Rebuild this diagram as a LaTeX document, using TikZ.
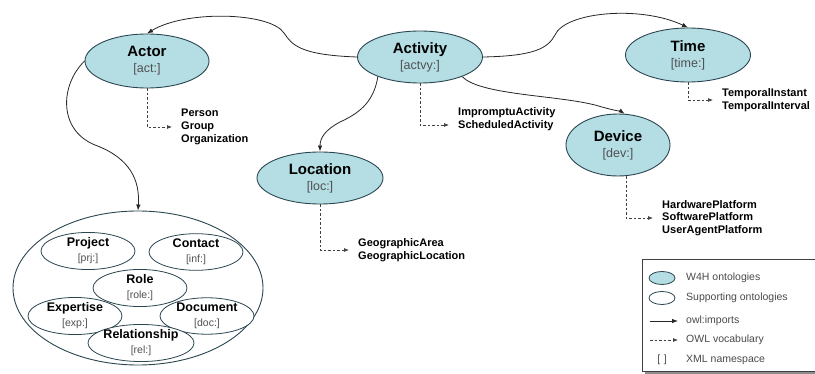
\documentclass[tikz,border=0pt]{standalone}
\usepackage{fontspec}
\setmainfont{Liberation Sans}
\usepackage{tikz}
\usetikzlibrary{shapes.geometric,arrows.meta}
\definecolor{w4hfill}{HTML}{B4DDE4}
\definecolor{w4hline}{HTML}{2B4650}
\definecolor{prefixgray}{HTML}{505050}
\definecolor{legendgray}{HTML}{4A4A4A}
\newcommand{\prefixsize}{\fontsize{12.5}{15}\selectfont}
\newcommand{\subprefixsize}{\fontsize{10.5}{13}\selectfont}

\begin{document}
\begin{tikzpicture}[x=1pt, y=-1pt,
  w4h/.style={ellipse, draw=w4hline, line width=0.9pt, fill=w4hfill, align=center, inner sep=0pt, font=\fontsize{15}{17}\selectfont},
  subont/.style={ellipse, draw=w4hline, line width=0.8pt, fill=white, align=center, inner sep=0pt, minimum width=94pt, minimum height=35pt, font=\fontsize{12.5}{15}\selectfont},
  imports/.style={-{Latex[length=6pt,width=4.5pt]}, line width=0.8pt, black!85},
  vocab/.style={-{Latex[length=5pt,width=4pt]}, dash pattern=on 2.5pt off 2pt, line width=0.7pt, black!75},
  terms/.style={align=left, anchor=west, inner xsep=9pt, inner ysep=0pt, font=\fontsize{11}{12.8}\selectfont\bfseries},
  keytext/.style={anchor=west, inner xsep=8pt, font=\fontsize{10.5}{12}\selectfont, text=legendgray}]
\useasboundingbox (0,0) rectangle (815,374);

% W4H ontologies
\node[w4h, minimum width=124pt, minimum height=54pt] (actor) at (147,61) {\textbf{Actor}\\[-1pt]\textcolor{prefixgray}{\prefixsize [act:]}};
\node[w4h, minimum width=125pt, minimum height=52pt] (activity) at (420,57) {\textbf{Activity}\\[-1pt]\textcolor{prefixgray}{\prefixsize [actvy:]}};
\node[w4h, minimum width=125pt, minimum height=54pt] (time) at (688,55) {\textbf{Time}\\[-1pt]\textcolor{prefixgray}{\prefixsize [time:]}};
\node[w4h, minimum width=104pt, minimum height=62pt] (device) at (618,145) {\textbf{Device}\\[-1pt]\textcolor{prefixgray}{\prefixsize [dev:]}};
\node[w4h, minimum width=126pt, minimum height=52pt] (location) at (320,178) {\textbf{Location}\\[-1pt]\textcolor{prefixgray}{\prefixsize [loc:]}};

% supporting ontologies
\node[ellipse, draw=w4hline, line width=0.9pt, minimum width=250pt, minimum height=154pt] (support) at (138,288) {};
\node[subont] (project) at (88,251) {\textbf{Project}\\\textcolor{prefixgray}{\subprefixsize [prj:]}};
\node[subont] (contact) at (196,252) {\textbf{Contact}\\\textcolor{prefixgray}{\subprefixsize [inf:]}};
\node[subont] (role) at (140,288) {\textbf{Role}\\\textcolor{prefixgray}{\subprefixsize [role:]}};
\node[subont] (expertise) at (75,316) {\textbf{Expertise}\\\textcolor{prefixgray}{\subprefixsize [exp:]}};
\node[subont] (document) at (207,316) {\textbf{Document}\\\textcolor{prefixgray}{\subprefixsize [doc:]}};
\node[subont] (relationship) at (141,343) {\textbf{Relationship}\\\textcolor{prefixgray}{\subprefixsize [rel:]}};

% vocabulary terms
\node[terms] (actorterms) at (172,127) {Person\\Group\\Organization};
\node[terms] (actvyterms) at (449,119) {ImpromptuActivity\\ScheduledActivity};
\node[terms] (timeterms) at (713,100) {TemporalInstant\\TemporalInterval};
\node[terms] (locterms) at (349,250) {GeographicArea\\GeographicLocation};
\node[terms] (devterms) at (653,218) {HardwarePlatform\\SoftwarePlatform\\UserAgentPlatform};

\draw[vocab] (actor.south) |- (actorterms.west);
\draw[vocab] (activity.south) |- ([yshift=-6pt]actvyterms.west);
\draw[vocab] (time.south) |- (timeterms.west);
\draw[vocab] (location.south) |- (locterms.west);
\draw[vocab] (device.-75) |- (devterms.west);

% owl:imports
\draw[imports] (activity.west) .. controls (300,55) and (292,45) .. (284,33) .. controls (270,12) and (185,10) .. (actor.north);
\draw[imports] (activity.east) .. controls (535,56) and (548,48) .. (555,35) .. controls (565,12) and (640,5) .. (time.north);
\draw[imports] (activity.-25) .. controls (480,95) and (555,95) .. (595,105) .. controls (612,110) and (622,112) .. (device.78);
\draw[imports] (activity.-155) .. controls (374,100) and (362,112) .. (340,122) .. controls (325,130) and (320,138) .. (location.north);
\draw[imports] (actor.west) .. controls (60,85) and (58,130) .. (95,145) .. controls (130,158) and (140,180) .. (support.north);

% legend
\fill[black!45] (645,262) rectangle (830,374);
\draw[fill=white, draw=black!75, line width=0.8pt] (642,259) rectangle (830,371);
\node[ellipse, draw=w4hline, line width=0.8pt, fill=w4hfill, minimum width=26pt, minimum height=13pt, inner sep=0pt] (keyw4h) at (662,278) {};
\node[keytext] (keyw4htext) at (678,278) {W4H ontologies};
\node[ellipse, draw=w4hline, line width=0.8pt, fill=white, minimum width=26pt, minimum height=13pt, inner sep=0pt] (keysub) at (662,298) {};
\node[keytext] (keysubtext) at (678,298) {Supporting ontologies};
\coordinate (keyimp) at (650,321);
\node[keytext] (keyimptext) at (678,321) {owl:imports};
\draw[imports] (keyimp) -- (keyimptext.west);
\coordinate (keyvoc) at (650,340);
\node[keytext] (keyvoctext) at (678,340) {OWL vocabulary};
\draw[vocab] (keyvoc) -- (keyvoctext.west);
\node[font=\fontsize{10.5}{12}\selectfont, text=legendgray] (keyns) at (662,360) {[\,\,]};
\node[keytext] (keynstext) at (678,360) {XML namespace};
\end{tikzpicture}
\end{document}
